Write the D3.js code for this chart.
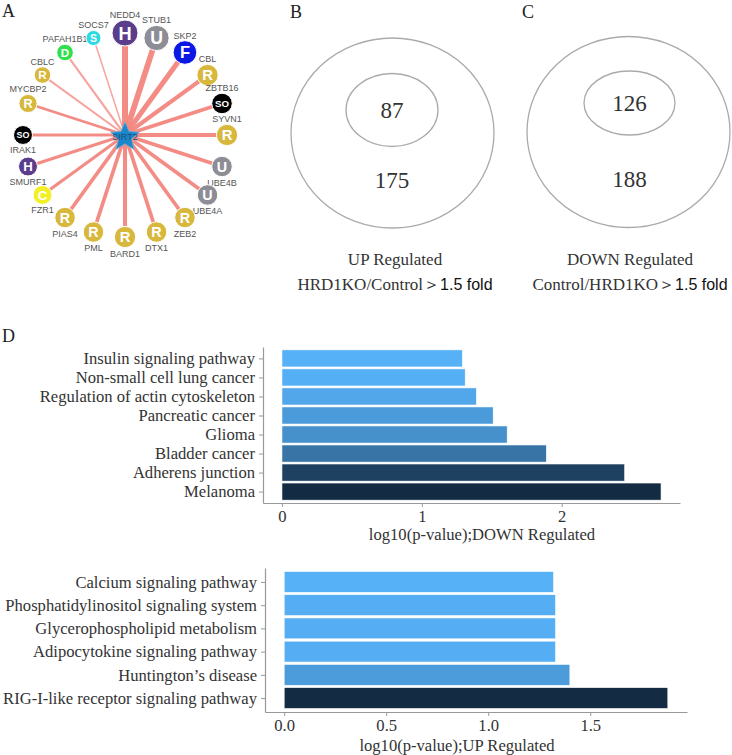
<!DOCTYPE html>
<html>
<head>
<meta charset="utf-8">
<script src="https://cdn.jsdelivr.net/npm/d3@7"></script>
<style>
  body { margin: 0; background: #fff; }
  svg { display: block; }
</style>
</head>
<body>
<div id="figure"></div>
<script>
// panel A - SIRT2 interaction partners, clockwise from the top
const hubName = "SIRT2";
const partners = ["NEDD4", "STUB1", "SKP2", "CBL", "ZBTB16", "SYVN1", "UBE4B", "UBE4A", "ZEB2", "DTX1",
  "BARD1", "PML", "PIAS4", "FZR1", "SMURF1", "IRAK1", "MYCBP2", "CBLC", "PAFAH1B1", "SOCS7"];
const partnerType = ["H", "U", "F", "R", "SO", "R", "U", "U", "R", "R",
  "R", "R", "R", "C", "H", "SO", "R", "R", "D", "S"];
const partnerScore = [10, 9.5, 8.5, 7, 6.5, 7, 6.5, 6.5, 6.5, 6.5,
  7, 6.5, 6.5, 5.5, 5.5, 5.5, 5, 4, 4, 3];

// panels B and C - inner / outer counts
const upCounts = [87, 175];
const downCounts = [126, 188];

// panel D
const downTerms = ["Insulin signaling pathway", "Non-small cell lung cancer", "Regulation of actin cytoskeleton",
  "Pancreatic cancer", "Glioma", "Bladder cancer", "Adherens junction", "Melanoma"];
const downValues = [1.29, 1.31, 1.39, 1.51, 1.61, 1.89, 2.45, 2.71];
const downTicks = [0, 1, 2];

const upTerms = ["Calcium signaling pathway", "Phosphatidylinositol signaling system", "Glycerophospholipid metabolism",
  "Adipocytokine signaling pathway", "Huntington’s disease", "RIG-I-like receptor signaling pathway"];
const upValues = [1.32, 1.33, 1.33, 1.33, 1.40, 1.88];
const upTicks = [0, 0.5, 1.0, 1.5];

var width = 732;
var height = 755;
var serif = "'Liberation Serif', 'DejaVu Serif', serif";
var sans = "'Liberation Sans', Arial, sans-serif";

var type_color = {
  "R": "#d8b83c",
  "U": "#8d8d95",
  "H": "#5a3d8b",
  "F": "#0b17e4",
  "SO": "#000000",
  "S": "#29d9e4",
  "D": "#2fdf4b",
  "C": "#f2f024"
};

var svg = d3.select("#figure").append("svg")
  .attr("width", width)
  .attr("height", height);

// panel letters
var letters = [["A", 2, 17], ["B", 290, 18], ["C", 522, 18], ["D", 2, 342]];
svg.selectAll(".panel-letter")
  .data(letters)
  .enter().append("text")
  .attr("class", "panel-letter")
  .attr("x", function (d) { return d[1]; })
  .attr("y", function (d) { return d[2]; })
  .attr("font-family", serif)
  .attr("font-size", 18)
  .attr("fill", "#222")
  .text(function (d) { return d[0]; });

// ---------- A: network ----------
var hub_x = 125;
var hub_y = 135;
var ring_r = 102;

var nodes = partners.map(function (name, i) {
  return { name: name, type: partnerType[i], score: partnerScore[i] };
});

var angle = d3.scaleLinear()
  .domain([0, partners.length])
  .range([-Math.PI / 2, 3 * Math.PI / 2]);
var edge_w = d3.scaleLinear().domain([3, 10]).range([1.5, 6]);
var node_r = d3.scaleLinear().domain([3, 10]).range([7.5, 13]);

nodes.forEach(function (d, i) {
  var a = angle(i);
  d.a = a;
  d.x = hub_x + ring_r * Math.cos(a);
  d.y = hub_y + ring_r * Math.sin(a);
  d.r = node_r(d.score);
});

var net = svg.append("g").attr("class", "network");

net.selectAll(".edge")
  .data(nodes)
  .enter().append("line")
  .attr("class", "edge")
  .attr("x1", hub_x)
  .attr("y1", hub_y)
  .attr("x2", function (d) { return d.x; })
  .attr("y2", function (d) { return d.y; })
  .attr("stroke", "#f3867f")
  .attr("stroke-opacity", function (d) { return d.score < 5 ? 0.75 : 0.95; })
  .attr("stroke-width", function (d) { return edge_w(d.score); });

var node = net.selectAll(".node")
  .data(nodes)
  .enter().append("g")
  .attr("class", "node")
  .attr("transform", function (d) { return "translate(" + d.x + "," + d.y + ")"; });

node.append("circle")
  .attr("r", function (d) { return d.r; })
  .attr("fill", function (d) { return type_color[d.type]; })
  .attr("stroke", "#fff")
  .attr("stroke-width", 1);

node.append("text")
  .attr("text-anchor", "middle")
  .attr("dy", "0.36em")
  .attr("font-family", sans)
  .attr("font-weight", "bold")
  .attr("font-size", function (d) { return d.type == "SO" ? d.r * 0.95 : d.r * 1.4; })
  .attr("fill", "#fff")
  .text(function (d) { return d.type; });

node.append("text")
  .attr("text-anchor", "middle")
  .attr("y", function (d) {
    var above = Math.sin(d.a) < -0.01 || (Math.abs(Math.sin(d.a)) < 0.01 && Math.cos(d.a) > 0);
    return above ? -d.r - 2 : d.r + 9;
  })
  .attr("font-family", sans)
  .attr("font-size", 9)
  .attr("fill", "#555")
  .text(function (d) { return d.name; });

// hub star
var star_pts = d3.range(10).map(function (i) {
  var a = -Math.PI / 2 + i * Math.PI / 5;
  var r = i % 2 == 0 ? 15 : 6.8;
  return [hub_x + r * Math.cos(a), hub_y + 2 + r * Math.sin(a)];
});
net.append("path")
  .attr("d", d3.line()(star_pts) + "Z")
  .attr("fill", "#1b87c8")
  .attr("stroke", "#5aaee0")
  .attr("stroke-width", 0.8);
net.append("text")
  .attr("x", hub_x)
  .attr("y", hub_y + 5)
  .attr("text-anchor", "middle")
  .attr("font-family", sans)
  .attr("font-size", 9)
  .attr("fill", "#1d4f7c")
  .text(hubName);

// ---------- B, C: nested ellipses ----------
function nested(counts, outer, inner, cap1, cap2, cap_x) {
  var g = svg.append("g");
  g.append("ellipse")
    .attr("cx", outer.cx).attr("cy", outer.cy)
    .attr("rx", outer.rx).attr("ry", outer.ry)
    .attr("fill", "none").attr("stroke", "#aaa").attr("stroke-width", 1.3);
  g.append("ellipse")
    .attr("cx", inner.cx).attr("cy", inner.cy)
    .attr("rx", inner.rx).attr("ry", inner.ry)
    .attr("fill", "none").attr("stroke", "#aaa").attr("stroke-width", 1.3);
  g.append("text")
    .attr("x", inner.cx).attr("y", inner.cy + 8)
    .attr("text-anchor", "middle")
    .attr("font-family", serif).attr("font-size", 23).attr("fill", "#333")
    .text(counts[0]);
  g.append("text")
    .attr("x", inner.cx).attr("y", outer.cy + 55)
    .attr("text-anchor", "middle")
    .attr("font-family", serif).attr("font-size", 23).attr("fill", "#333")
    .text(counts[1]);
  g.append("text")
    .attr("x", cap_x).attr("y", 265)
    .attr("text-anchor", "middle")
    .attr("font-family", serif).attr("font-size", 17).attr("fill", "#333")
    .text(cap1);
  var t = g.append("text")
    .attr("x", cap_x).attr("y", 290)
    .attr("text-anchor", "middle")
    .attr("font-size", 17).attr("fill", "#333");
  t.append("tspan").attr("font-family", serif).text(cap2);
  t.append("tspan").attr("font-family", serif).text("＞");
  t.append("tspan").attr("font-family", sans).attr("font-size", 16).attr("fill", "#111").text("1.5 fold");
}

nested(upCounts,
  { cx: 392.5, cy: 133, rx: 101.5, ry: 95 },
  { cx: 392, cy: 110, rx: 46, ry: 36.5 },
  "UP Regulated", "HRD1KO/Control", 395);
nested(downCounts,
  { cx: 628.5, cy: 132, rx: 101.5, ry: 95.5 },
  { cx: 629.5, cy: 103, rx: 45.5, ry: 32 },
  "DOWN Regulated", "Control/HRD1KO", 630);

// ---------- D: enrichment bars ----------
function bar_chart(terms, values, ticks, fmt, box, title, title_x, title_dy) {
  var g = svg.append("g");
  var vmax = d3.max(values);
  var x = d3.scaleLinear()
    .domain([-vmax * 0.05, vmax * 1.05])
    .range([box.left, box.right]);
  var y = d3.scalePoint()
    .domain(terms)
    .range([box.top, box.bottom])
    .padding(0.6);
  var bar_h = y.step() * 0.9;
  var color = d3.scaleLinear()
    .domain([d3.min(values), vmax])
    .range(["#56B1F7", "#132B43"])
    .interpolate(d3.interpolateLab);

  g.selectAll(".bar")
    .data(terms)
    .enter().append("rect")
    .attr("class", "bar")
    .attr("x", x(0))
    .attr("y", function (d) { return y(d) - bar_h / 2; })
    .attr("width", function (d, i) { return x(values[i]) - x(0); })
    .attr("height", bar_h)
    .attr("fill", function (d, i) { return color(values[i]); })
    .attr("stroke", "#fff")
    .attr("stroke-width", 0.6);

  var xa = g.append("g")
    .attr("transform", "translate(0," + box.bottom + ")")
    .call(d3.axisBottom(x).tickValues(ticks).tickFormat(d3.format(fmt)).tickSize(4).tickSizeOuter(0).tickPadding(3));
  var ya = g.append("g")
    .attr("transform", "translate(" + box.left + ",0)")
    .call(d3.axisLeft(y).tickSize(4).tickSizeOuter(0).tickPadding(4));

  [xa, ya].forEach(function (a) {
    a.select(".domain").attr("stroke", "#999").attr("stroke-width", 1.2);
    a.selectAll(".tick line").attr("stroke", "#999");
    a.selectAll(".tick text")
      .attr("font-family", serif)
      .attr("font-size", 16.6)
      .attr("fill", "#333");
  });

  g.append("text")
    .attr("x", title_x)
    .attr("y", box.bottom + title_dy)
    .attr("text-anchor", "middle")
    .attr("font-family", serif)
    .attr("font-size", 16.6)
    .attr("fill", "#333")
    .text(title);
}

bar_chart(downTerms, downValues, downTicks, "d",
  { left: 263, right: 680, top: 347, bottom: 503 },
  "log10(p-value);DOWN Regulated", 482, 37);
bar_chart(upTerms, upValues, upTicks, ".1f",
  { left: 265, right: 687, top: 568, bottom: 712 },
  "log10(p-value);UP Regulated", 457, 39);
</script>
</body>
</html>
